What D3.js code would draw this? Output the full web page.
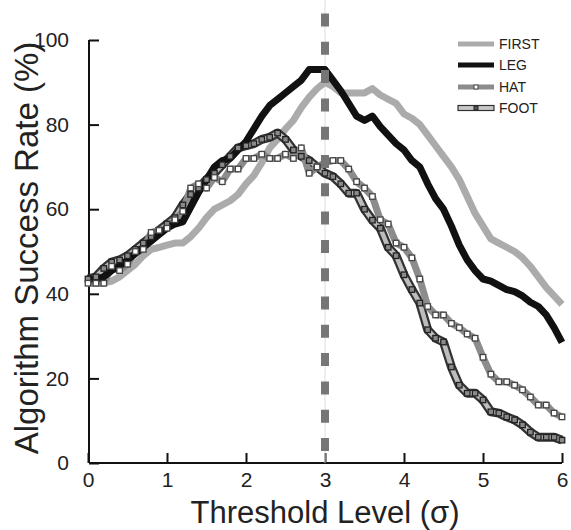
<!DOCTYPE html>
<html><head><meta charset="utf-8">
<script src="https://cdn.jsdelivr.net/npm/d3@7/dist/d3.min.js"></script>
<style>html,body{margin:0;padding:0;background:#fff;}svg{display:block;font-family:"Liberation Sans",Arial,sans-serif;}</style>
</head><body><svg id="c" width="571" height="530"></svg>
<script>
const thresholds = [0,0.1,0.2,0.3,0.4,0.5,0.6,0.7,0.8,0.9,1.0,1.1,1.2,1.3,1.4,1.5,1.6,1.7,1.8,1.9,2.0,2.1,2.2,2.3,2.4,2.5,2.6,2.7,2.8,2.9,3.0,3.1,3.2,3.3,3.4,3.5,3.6,3.7,3.8,3.9,4.0,4.1,4.2,4.3,4.4,4.5,4.6,4.7,4.8,4.9,5.0,5.1,5.2,5.3,5.4,5.5,5.6,5.7,5.8,5.9,6.0];
const first = [43,42.5,42.5,43,44,45.5,47,49,50.5,51,51.5,52,52,53.5,55.5,58,60,61,62,63.5,66,68,71,74.5,76.5,79,81,84,86.5,88.5,90,89,87.5,87.5,87.5,87.5,88.5,87,86,85,82.5,81.5,80,77.5,75,72.5,70,67,63,59,56,53,52,51,50,48.5,46.5,44,41.5,39.5,37.5];
const leg = [43.5,43.5,44,45.5,46.5,48,49.5,51,52.5,54,55.5,56.5,57,60.5,64,67,70,71.5,72,74,76,79,82,84.5,86,87.5,89,90.5,93,93,93,90.5,88,85,82,81,82,79.5,77.5,75.5,74,71.5,70,66,62.5,60,56,51.5,48,45.5,43.5,43,42,41,40.5,39.5,38,37,35,32,28.5];
const hat = [42.5,42.5,42.5,46.5,45.5,47,50,50.5,54.5,55,55.5,57.5,59.5,65,66,65,67.5,66.5,69.5,69.5,72,72,73,72,72,73,72,74.5,68.5,70,71,71.5,71.5,69.5,66.5,65,63,57.5,56.5,52,51,48.5,43.5,37,35,35,33,32,30.5,29.5,25,21,19.2,19.2,18.4,17.3,15.6,13.7,13.7,11.8,10.9];
const foot = [43.5,44,46,47.5,48,49,50.5,52,53.5,55,56.5,58,61,63.5,65,67,68.5,70.5,72.5,74.5,75,75.5,76.5,77,78,76.5,74,72.5,71.5,70,68.5,67.7,66,63.8,63.8,60,57.4,55.5,51,49,44.5,41,37.8,31.5,29.5,28.6,22.7,18.4,16.5,16.5,14.9,12.1,11.8,10.9,10.2,9,7.3,6.1,6.1,6.1,5.4];
const xTicks = [0,1,2,3,4,5,6];
const yTicks = [0,20,40,60,80,100];
const legendNames = ["FIRST","LEG","HAT","FOOT"];
const markerLevel = 3;
const xTitle = "Threshold Level (\u03C3)";
const yTitle = "Algorithm Success Rate (%)";

const svg = d3.select("#c");
const x = d3.scaleLinear().domain([0,6]).range([88,562]);
const y = d3.scaleLinear().domain([0,100]).range([463,40]);

// axes
const xAxis = d3.axisBottom(x).tickValues(xTicks).tickSizeInner(-10).tickSizeOuter(0).tickPadding(9).tickFormat(d3.format("d"));
const yAxis = d3.axisLeft(y).tickValues(yTicks).tickSizeInner(-10).tickSizeOuter(0).tickPadding(20).tickFormat(d3.format("d"));
const gx = svg.append("g").attr("transform","translate(0,463)").call(xAxis);
const gy = svg.append("g").attr("transform","translate(89,0)").call(yAxis);
[gx,gy].forEach(g=>{
  g.select(".domain").attr("stroke","#111").attr("stroke-width",2);
  g.selectAll(".tick line").attr("stroke","#111").attr("stroke-width",2);
  g.selectAll(".tick text").attr("fill","#222").attr("font-size",21).attr("font-family","Liberation Sans, Arial, sans-serif");
});
gx.select(".domain").attr("d","M89,0H562");
gy.select(".domain").attr("d","M0,40V463");
gx.selectAll(".tick text").attr("dy","0.71em");

const pts = arr => arr.map((v,i)=>[thresholds[i],v]);
const line = d3.line().x(d=>x(d[0])).y(d=>y(d[1])).curve(d3.curveLinear);

const plot = svg.append("g");
// thin guide line behind dashes
plot.append("line").attr("x1",x(markerLevel)).attr("x2",x(markerLevel)).attr("y1",0).attr("y2",463)
  .attr("stroke","#ddd").attr("stroke-width",1);

plot.append("path").attr("d",line(pts(first))).attr("fill","none").attr("stroke","#ababab").attr("stroke-width",7).attr("stroke-linejoin","round");

// FOOT: double line
plot.append("path").attr("d",line(pts(foot))).attr("fill","none").attr("stroke","#333").attr("stroke-width",9).attr("stroke-linejoin","round");
plot.append("path").attr("d",line(pts(foot))).attr("fill","none").attr("stroke","#bdbdbd").attr("stroke-width",4.5).attr("stroke-linejoin","round");
// HAT line
plot.append("path").attr("d",line(pts(hat))).attr("fill","none").attr("stroke","#8c8c8c").attr("stroke-width",7).attr("stroke-linejoin","round");
// LEG line
plot.append("path").attr("d",line(pts(leg))).attr("fill","none").attr("stroke","#111").attr("stroke-width",7).attr("stroke-linejoin","round");

const ms = 5.5;
plot.append("g").selectAll("rect").data(pts(foot)).join("rect")
  .attr("x",d=>x(d[0])-ms/2).attr("y",d=>y(d[1])-ms/2).attr("width",ms).attr("height",ms)
  .attr("fill","#8a8a8a").attr("stroke","#222").attr("stroke-width",1.3);
plot.append("g").selectAll("rect").data(pts(hat)).join("rect")
  .attr("x",d=>x(d[0])-ms/2).attr("y",d=>y(d[1])-ms/2).attr("width",ms).attr("height",ms)
  .attr("fill","#fff").attr("stroke","#444").attr("stroke-width",1.3);

// dashed vertical line
plot.append("line").attr("x1",x(markerLevel)).attr("x2",x(markerLevel)).attr("y1",13.5).attr("y2",463)
  .attr("stroke","#767676").attr("stroke-width",8).attr("stroke-dasharray","13,15.3");

// legend
const lg = svg.append("g");
const rowY = [44,65,87,108];
legendNames.forEach((name,i)=>{
  const yy = rowY[i];
  const g = lg.append("g");
  if(name==="FIRST"){
    g.append("line").attr("x1",458).attr("x2",494).attr("y1",yy).attr("y2",yy).attr("stroke","#ababab").attr("stroke-width",5);
  } else if(name==="LEG"){
    g.append("line").attr("x1",458).attr("x2",494).attr("y1",yy).attr("y2",yy).attr("stroke","#111").attr("stroke-width",5);
  } else if(name==="HAT"){
    g.append("line").attr("x1",458).attr("x2",494).attr("y1",yy).attr("y2",yy).attr("stroke","#8c8c8c").attr("stroke-width",5);
    g.append("rect").attr("x",476-2).attr("y",yy-2).attr("width",4).attr("height",4).attr("fill","#fff").attr("stroke","#444").attr("stroke-width",1);
  } else {
    g.append("rect").attr("x",458).attr("y",yy-2.5).attr("width",36).attr("height",5).attr("fill","#c8c8c8").attr("stroke","#333").attr("stroke-width",1.2);
    g.append("rect").attr("x",476-2).attr("y",yy-2).attr("width",4).attr("height",4).attr("fill","#555").attr("stroke","#222").attr("stroke-width",1);
  }
  g.append("text").attr("x",499).attr("y",yy).attr("dy","0.36em").attr("font-size",14).attr("fill","#222").text(name);
});

// titles
svg.append("text").attr("x",325).attr("y",523).attr("text-anchor","middle").attr("font-size",31).attr("fill","#222").text(xTitle);
svg.append("text").attr("transform","translate(38,248) rotate(-90)").attr("text-anchor","middle").attr("font-size",33).attr("fill","#222").text(yTitle);
</script></body></html>
